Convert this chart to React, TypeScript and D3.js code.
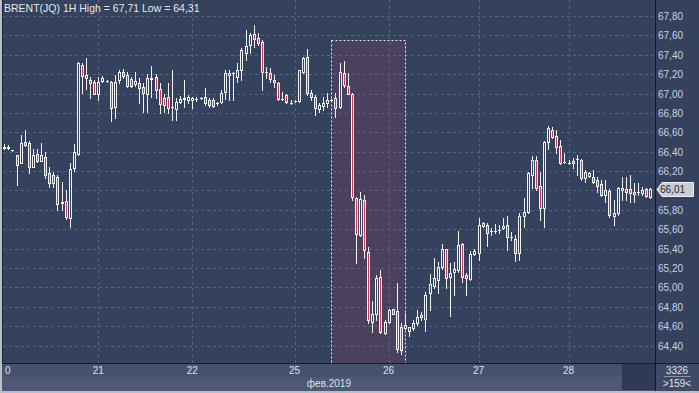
import React, { useEffect } from "react";
import * as d3 from "d3";

// ---- Data (BRENT(JQ) 1H candles) ----
const opens = [66.45,66.45,66.42,66.37,66.28,66.50,66.49,66.24,66.38,66.30,66.35,66.18,66.16,66.14,65.88,65.89,65.72,66.23,66.38,67.29,67.19,67.14,67.12,67.00,67.13,67.13,67.12,66.86,67.14,67.22,67.19,67.15,67.10,67.11,67.07,67.00,67.15,67.17,67.05,66.95,66.96,66.86,66.84,66.91,66.94,66.93,66.95,66.94,66.95,66.96,66.93,66.93,66.90,66.91,67.02,67.19,67.21,67.17,67.24,67.42,67.50,67.61,67.57,67.53,67.22,67.21,67.14,67.11,66.94,66.98,66.90,66.92,66.92,67.22,67.38,67.01,66.96,66.84,66.87,66.90,66.93,66.95,66.86,67.21,67.08,67.00,65.92,65.54,65.90,65.36,64.64,64.73,65.11,64.53,64.64,64.78,64.76,64.59,64.58,64.55,64.58,64.63,64.69,64.67,64.94,65.01,65.08,65.21,65.40,65.11,65.16,65.18,65.45,65.13,65.09,65.34,65.35,65.66,65.64,65.58,65.58,65.59,65.61,65.64,65.52,65.50,65.35,65.74,65.78,66.16,66.31,66.05,65.82,66.50,66.62,66.56,66.46,66.29,66.28,66.30,66.32,66.31,66.13,66.15,66.14,66.11,66.07,65.95,65.99,65.74,65.77,66.00,66.02,66.02,65.96,65.98,65.97,66.02,65.93];
const highs = [66.48,66.47,66.42,66.37,66.57,66.62,66.51,66.43,66.43,66.49,66.40,66.24,66.19,66.16,66.09,66.00,66.28,66.48,67.33,67.31,67.37,67.17,67.14,67.17,67.18,67.14,67.13,67.19,67.24,67.25,67.22,67.17,67.22,67.16,67.11,67.20,67.28,67.20,67.11,67.00,67.11,67.24,66.95,66.97,67.14,66.98,66.96,66.96,66.96,67.06,66.95,66.95,66.91,67.04,67.24,67.24,67.22,67.32,67.47,67.66,67.62,67.71,67.62,67.55,67.27,67.26,67.19,67.12,67.02,67.00,66.93,66.93,67.24,67.38,67.46,67.04,66.98,66.90,66.96,67.01,66.94,67.01,67.31,67.34,67.21,67.01,65.93,65.98,65.95,65.42,64.86,65.13,65.18,64.66,64.78,64.78,65.04,64.63,64.74,64.59,64.66,64.77,64.75,64.95,65.14,65.30,65.26,65.45,65.40,65.25,65.26,65.58,65.46,65.15,65.37,65.40,65.72,65.67,65.66,65.61,65.65,65.64,65.72,65.74,65.57,65.54,65.77,65.92,66.19,66.36,66.36,66.19,66.51,66.67,66.65,66.62,66.52,66.39,66.31,66.33,66.37,66.32,66.21,66.19,66.21,66.14,66.11,66.11,66.02,65.90,66.04,66.14,66.14,66.16,66.08,66.08,66.04,66.03,66.03];
const lows = [66.43,66.43,66.41,66.06,66.28,66.46,66.18,66.24,66.29,66.30,66.13,66.04,66.04,65.80,65.80,65.71,65.62,66.20,66.37,67.01,67.05,66.95,66.99,66.93,67.12,67.12,66.72,66.75,67.11,67.16,67.07,67.07,67.08,66.90,66.81,66.81,66.96,66.95,66.80,66.81,66.80,66.73,66.73,66.90,66.86,66.90,66.85,66.92,66.94,66.88,66.86,66.86,66.88,66.90,66.94,66.93,66.93,67.12,67.14,67.35,67.42,67.48,67.50,67.04,67.16,67.12,67.07,66.93,66.93,66.90,66.89,66.91,66.91,67.21,66.98,66.93,66.78,66.81,66.83,66.86,66.92,66.76,66.85,67.07,67.00,65.90,65.25,65.53,65.30,64.63,64.54,64.66,64.53,64.52,64.63,64.73,64.33,64.31,64.57,64.50,64.56,64.61,64.66,64.55,64.77,64.99,64.94,65.19,64.99,64.70,64.92,65.16,65.06,64.92,65.08,65.33,65.28,65.62,65.43,65.54,65.56,65.56,65.60,65.39,65.49,65.27,65.28,65.62,65.77,66.03,66.00,65.69,65.62,66.43,66.54,66.39,66.27,66.28,66.27,66.23,66.16,66.11,66.09,66.14,66.08,65.98,65.94,65.88,65.73,65.64,65.75,65.90,65.90,65.88,65.88,65.95,65.95,65.93,65.92];
const closes = [66.44,66.44,66.42,66.26,66.49,66.47,66.24,66.37,66.30,66.37,66.16,66.08,66.08,65.86,65.87,65.73,66.22,66.40,67.31,67.18,67.16,67.11,67.00,67.12,67.16,67.13,66.85,67.12,67.22,67.18,67.08,67.08,67.13,67.06,67.01,67.16,67.16,67.04,66.89,66.88,66.85,66.86,66.91,66.94,66.95,66.96,66.93,66.94,66.95,66.90,66.88,66.87,66.90,67.01,67.21,67.21,67.21,67.24,67.45,67.49,67.60,67.56,67.52,67.22,67.22,67.15,67.12,66.94,66.94,66.91,66.90,66.92,67.24,67.37,67.01,66.96,66.85,66.88,66.90,66.93,66.93,66.85,67.22,67.09,66.99,65.93,65.55,65.91,65.39,64.66,64.73,65.10,64.54,64.64,64.77,64.73,64.36,64.35,64.61,64.59,64.63,64.69,64.71,64.92,65.03,65.10,65.21,65.40,65.10,65.15,65.19,65.44,65.11,65.10,65.34,65.37,65.64,65.63,65.56,65.58,65.58,65.59,65.63,65.52,65.52,65.35,65.74,65.78,66.18,66.31,66.03,65.82,66.50,66.64,66.55,66.45,66.28,66.29,66.28,66.28,66.32,66.13,66.19,66.18,66.09,66.05,65.95,66.00,65.75,65.77,66.03,66.03,65.98,65.97,65.98,65.98,66.00,65.94,66.01];

const priceTicks = [64.4,64.6,64.8,65.0,65.2,65.4,65.6,65.8,66.0,66.2,66.4,66.6,66.8,67.0,67.2,67.4,67.6,67.8];
const dayLabels = ["0","21","22","25","26","27","28"];
const dayIndex = [0,23,46,71,94,116,138];
const highlightRange = [80, 98];
const highlightPrice = [67.55, 64.22];
const lastPrice = 66.01;
const title = "BRENT(JQ) 1H High = 67,71 Low = 64,31";
const monthLabel = "фев.2019";
const volumeLabel = "3326";
const countLabel = ">159<";

const W = 699, H = 393;
const BG = "#34425e";
const UP_FILL = BG;
const DOWN_FILL = "#c83a55";
const STROKE = "#f2f2f4";
const GRID = "#56647f";
const FONT = "'Liberation Sans', Arial, sans-serif";

const fmt = (v: number) => d3.format(".2f")(v).replace(".", ",");

export default function App() {
  useEffect(() => {
    document.body.style.margin = "0";
  }, []);

  const n = opens.length;
  const x = d3.scaleLinear().domain([0, n - 1]).range([4.3, 650.3]);
  const y = d3.scaleLinear().domain([64.4, 67.8]).range([345.5, 16]);

  const plotL = 3, plotR = 655, plotB = 363;

  const candles = opens.map((o, i) => {
    const c = closes[i], h = highs[i], l = lows[i];
    const cx = Math.round(x(i));
    const yTop = Math.round(y(Math.max(o, c)));
    const yBot = Math.round(y(Math.min(o, c)));
    const yH = Math.round(y(h));
    const yL = Math.round(y(l));
    const down = c < o;
    const bh = Math.max(1, yBot - yTop + 1);
    return (
      <g key={i}>
        <rect x={cx} y={yH} width={1} height={Math.max(1, yL - yH + 1)} fill={STROKE} />
        <rect x={cx - 1} y={yTop} width={3} height={bh} fill={STROKE} />
        {bh > 2 && (
          <rect x={cx} y={yTop + 1} width={1} height={bh - 2} fill={down ? DOWN_FILL : UP_FILL} />
        )}
      </g>
    );
  });

  const lx0 = x(highlightRange[0]);
  const lx1 = x(highlightRange[1]);
  const ly0 = y(highlightPrice[0]);
  const ly1 = y(highlightPrice[1]);

  const yl = Math.round(y(lastPrice));

  return (
    <svg width={W} height={H} style={{ position: "absolute", left: 0, top: 0, display: "block" }} fontFamily={FONT}>
      <rect x={0} y={0} width={W} height={H} fill={BG} />
      {/* horizontal grid */}
      {priceTicks.map((p, i) => (
        <line key={"hg" + i} x1={plotL} x2={plotR} y1={Math.round(y(p)) + 0.5} y2={Math.round(y(p)) + 0.5}
          stroke={GRID} strokeDasharray="3,3" />
      ))}
      {/* vertical grid */}
      {dayIndex.slice(1).map((d, i) => (
        <line key={"vg" + i} x1={Math.round(x(d)) + 0.5} x2={Math.round(x(d)) + 0.5} y1={0} y2={plotB}
          stroke={GRID} strokeDasharray="3,3" />
      ))}
      {/* highlight region */}
      <rect x={Math.round(lx0) + 0.5} y={Math.round(ly0) + 0.5} width={Math.round(lx1 - lx0)} height={Math.round(ly1 - ly0)}
        fill="#b03c5e" fillOpacity={0.18} stroke="#e8e8ee" strokeDasharray="2,2" />
      {/* candles */}
      {candles}
      {/* title */}
      <text x={4} y={12} fontSize={10.5} fill="#e4e8ee">{title}</text>

      {/* bottom axis strips */}
      <rect x={0} y={plotB} width={plotR} height={14} fill="#44526d" />
      <rect x={0} y={plotB + 14} width={plotR} height={14} fill="#4b5974" />
      <rect x={622} y={plotB + 1} width={plotR - 622} height={26} fill="#2f3b54" />
      <line x1={0} x2={W} y1={plotB + 0.5} y2={plotB + 0.5} stroke="#151b28" />
      {dayLabels.map((lab, i) => (
        <text key={"dl" + i} x={Math.max(5, x(dayIndex[i]))} y={374} fontSize={10} fill="#dde2ea"
          textAnchor={i === 0 ? "start" : "middle"}>{lab}</text>
      ))}
      <text x={351} y={387} fontSize={10} fill="#dde2ea" textAnchor="end">{monthLabel}</text>

      {/* right axis */}
      <rect x={plotR + 1} y={plotB + 1} width={W - plotR - 1} height={H - plotB - 1} fill="#3d4b66" />
      <line x1={plotR + 0.5} x2={plotR + 0.5} y1={0} y2={H} stroke="#121826" />
      {priceTicks.filter((p) => Math.abs(y(p) - y(lastPrice)) > 10).map((p, i) => (
        <text key={"yl" + i} x={658} y={Math.round(y(p)) + 4} fontSize={10} fill="#c9d2e0">{fmt(p)}</text>
      ))}
      <path d={`M657,${yl + 0.5} L662,${yl - 6.5} L693.5,${yl - 6.5} L693.5,${yl + 7.5} L662,${yl + 7.5} Z`}
        fill="#c9cdd4" stroke="#eef0f3" />
      <text x={660} y={yl + 4} fontSize={10} fill="#1e2633">{fmt(lastPrice)}</text>
      <text x={677} y={374} fontSize={10} fill="#dde2ea" textAnchor="middle">{volumeLabel}</text>
      <line x1={664} x2={691} y1={376.5} y2={376.5} stroke="#8893a6" />
      <text x={677} y={387} fontSize={10} fill="#dde2ea" textAnchor="middle">{countLabel}</text>

      {/* frame */}
      <rect x={0} y={0} width={2} height={H} fill="#b8bdc6" />
      <rect x={2} y={0} width={1} height={plotB} fill="#1a2130" />
      <rect x={0} y={H - 2} width={W} height={2} fill="#b8bdc6" />
    </svg>
  );
}
